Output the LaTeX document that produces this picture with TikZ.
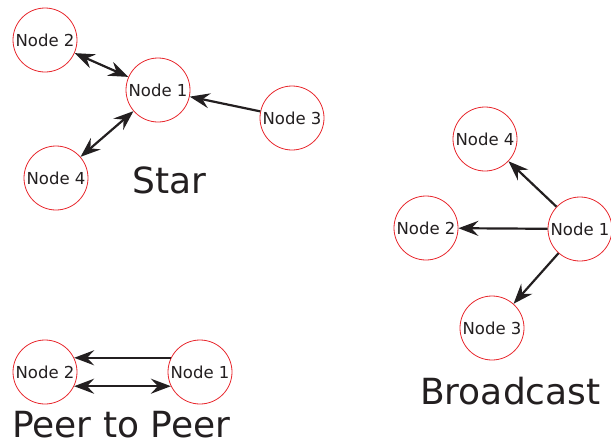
\documentclass[tikz,border=0pt]{standalone}
\usepackage{fontspec}
\setmainfont{DejaVu Sans}
\usetikzlibrary{arrows.meta}
\definecolor{ink}{HTML}{231F20}
\definecolor{ring}{HTML}{E8262C}
\tikzset{
  netnode/.style={circle,draw=ring,line width=0.8pt,fill=white,minimum size=64pt,inner sep=0pt,text=ink,font=\fontsize{16.5}{16.5}\selectfont},
  tip/.tip={Stealth[length=20pt,width=15pt,inset=7pt]},
  link/.style={draw=ink,line width=2.2pt,arrows={-tip}},
  dlink/.style={draw=ink,line width=2.2pt,arrows={tip-tip}},
  title/.style={anchor=base west,inner sep=0pt,text=ink,font=\fontsize{36}{36}\selectfont}
}
\begin{document}
\begin{tikzpicture}[x=1pt,y=-1pt]
\useasboundingbox (0,0) rectangle (611,445);
% Star
\node[netnode] (s2) at (45,40) {Node 2};
\node[netnode] (s1) at (158,90) {Node 1};
\node[netnode] (s3) at (292,118) {Node 3};
\node[netnode] (s4) at (56,178) {Node 4};
\draw[dlink] (s2) -- (s1);
\draw[link] (s3) -- (s1);
\draw[dlink] (s1) -- (s4);
\node[title] (tstar) at (132,193) {Star};
% Broadcast
\node[netnode] (b4) at (485,139) {Node 4};
\node[netnode] (b2) at (426,228) {Node 2};
\node[netnode] (b1) at (580,229) {Node 1};
\node[netnode] (b3) at (492,328) {Node 3};
\draw[link] (b1) -- (b4);
\draw[link] (b1) -- (b2);
\draw[link] (b1) -- (b3);
\node[title] (tbroad) at (420,404) {Broadcast};
% Peer to Peer
\node[netnode] (p2) at (45,372) {Node 2};
\node[netnode] (p1) at (200,372) {Node 1};
\draw[link] (p1.154) -- (p2.26);
\draw[dlink] (p2.334) -- (p1.206);
\node[title] (tpeer) at (12,437) {Peer to Peer};
\end{tikzpicture}
\end{document}
